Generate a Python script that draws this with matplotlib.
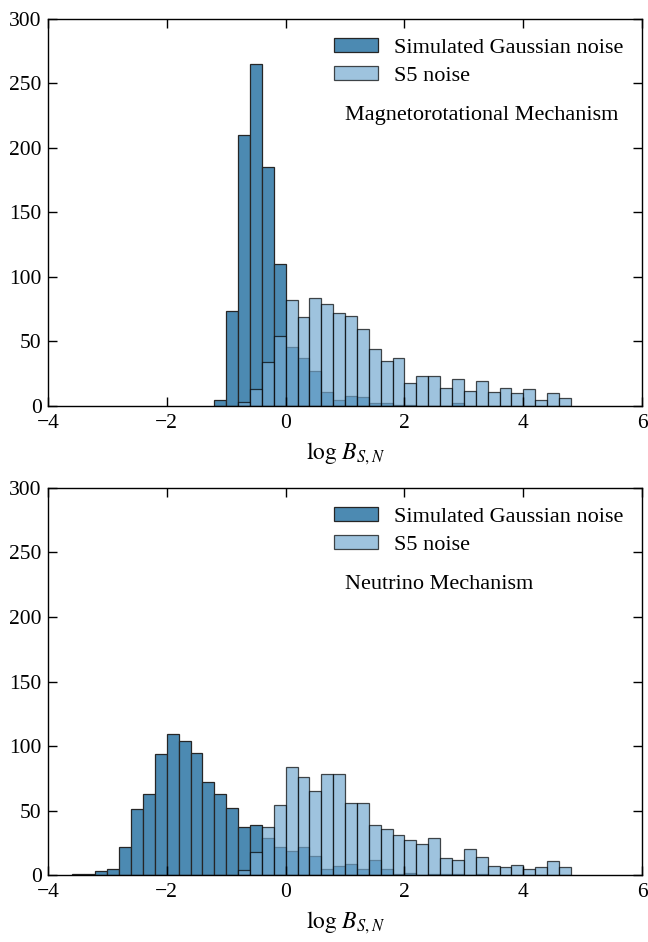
import numpy as np
import matplotlib
matplotlib.use("Agg")
import matplotlib.pyplot as plt

plt.rcParams['font.family'] = ['Liberation Serif', 'DejaVu Serif']
plt.rcParams['mathtext.fontset'] = 'stix'

# bin width and histogram counts
bin_w = 0.2

# magnetorotational mechanism
mag_gauss_start = -1.2
mag_gauss = [5, 74, 210, 265, 185, 110, 46, 37, 27, 11, 5, 8, 7, 2, 2, 1, 1, 0, 0, 0, 2]
mag_s5_start = -0.8
mag_s5 = [3, 13, 34, 54, 82, 69, 84, 79, 72, 70, 60, 44, 35, 37, 18, 23, 23, 14,
          21, 12, 19, 11, 14, 10, 13, 5, 10, 6]

# neutrino mechanism
neu_gauss_start = -3.6
neu_gauss = [1, 1, 3, 5, 22, 51, 63, 94, 109, 104, 95, 72, 63, 52, 37, 39, 29, 22,
             19, 22, 15, 5, 7, 9, 5, 12, 5, 1, 2, 0, 1, 1, 1, 0, 1]
neu_s5_start = -0.8
neu_s5 = [4, 18, 37, 54, 84, 76, 65, 78, 78, 56, 56, 39, 36, 31, 27, 24, 29, 13,
          12, 20, 14, 7, 6, 8, 5, 6, 11, 6]

panels = [
    (mag_gauss_start, mag_gauss, mag_s5_start, mag_s5, "Magnetorotational Mechanism"),
    (neu_gauss_start, neu_gauss, neu_s5_start, neu_s5, "Neutrino Mechanism"),
]

dark = '#4c8ab2'
light = '#75aad1'

def draw_hist(ax, start, counts, **kw):
    counts = np.array(counts, dtype=float)
    edges = start + bin_w * np.arange(len(counts) + 1)
    centers = edges[:-1] + bin_w / 2
    ax.hist(centers, bins=edges, weights=counts, **kw)

fig = plt.figure(figsize=(6.48, 9.42), dpi=100)
axes = [fig.add_axes([0.074, 0.569, 0.917, 0.411]),
        fig.add_axes([0.074, 0.071, 0.917, 0.411])]

for ax, (gs, g, ss, s, title) in zip(axes, panels):
    draw_hist(ax, gs, g, color=dark, edgecolor='#262626', linewidth=0.9,
              label='Simulated Gaussian noise')
    draw_hist(ax, ss, s, color=light, alpha=0.7, edgecolor='black', linewidth=0.9,
              label='S5 noise')
    ax.set_xlim(-4, 6)
    ax.set_ylim(0, 300)
    ax.set_xticks(np.arange(-4, 7, 2))
    ax.set_yticks(np.arange(0, 301, 50))
    ax.tick_params(direction='in', length=6.5, width=1, top=True, right=True,
                   labelsize=15.5)
    ax.tick_params(axis='x', pad=6)
    ax.tick_params(axis='y', pad=4.5)
    for sp in ax.spines.values():
        sp.set_linewidth(1)
    ax.set_xlabel(r'$\log\,B_{S,N}$', fontsize=17, labelpad=5)
    ax.legend(loc='upper right', frameon=False, fontsize=16, labelspacing=0.35,
              handletextpad=0.7, handleheight=0.63, borderaxespad=0.45)
    ax.text(1.0, 222, title, fontsize=16, ha='left', va='baseline')

fig.savefig('out.png', dpi=100)
